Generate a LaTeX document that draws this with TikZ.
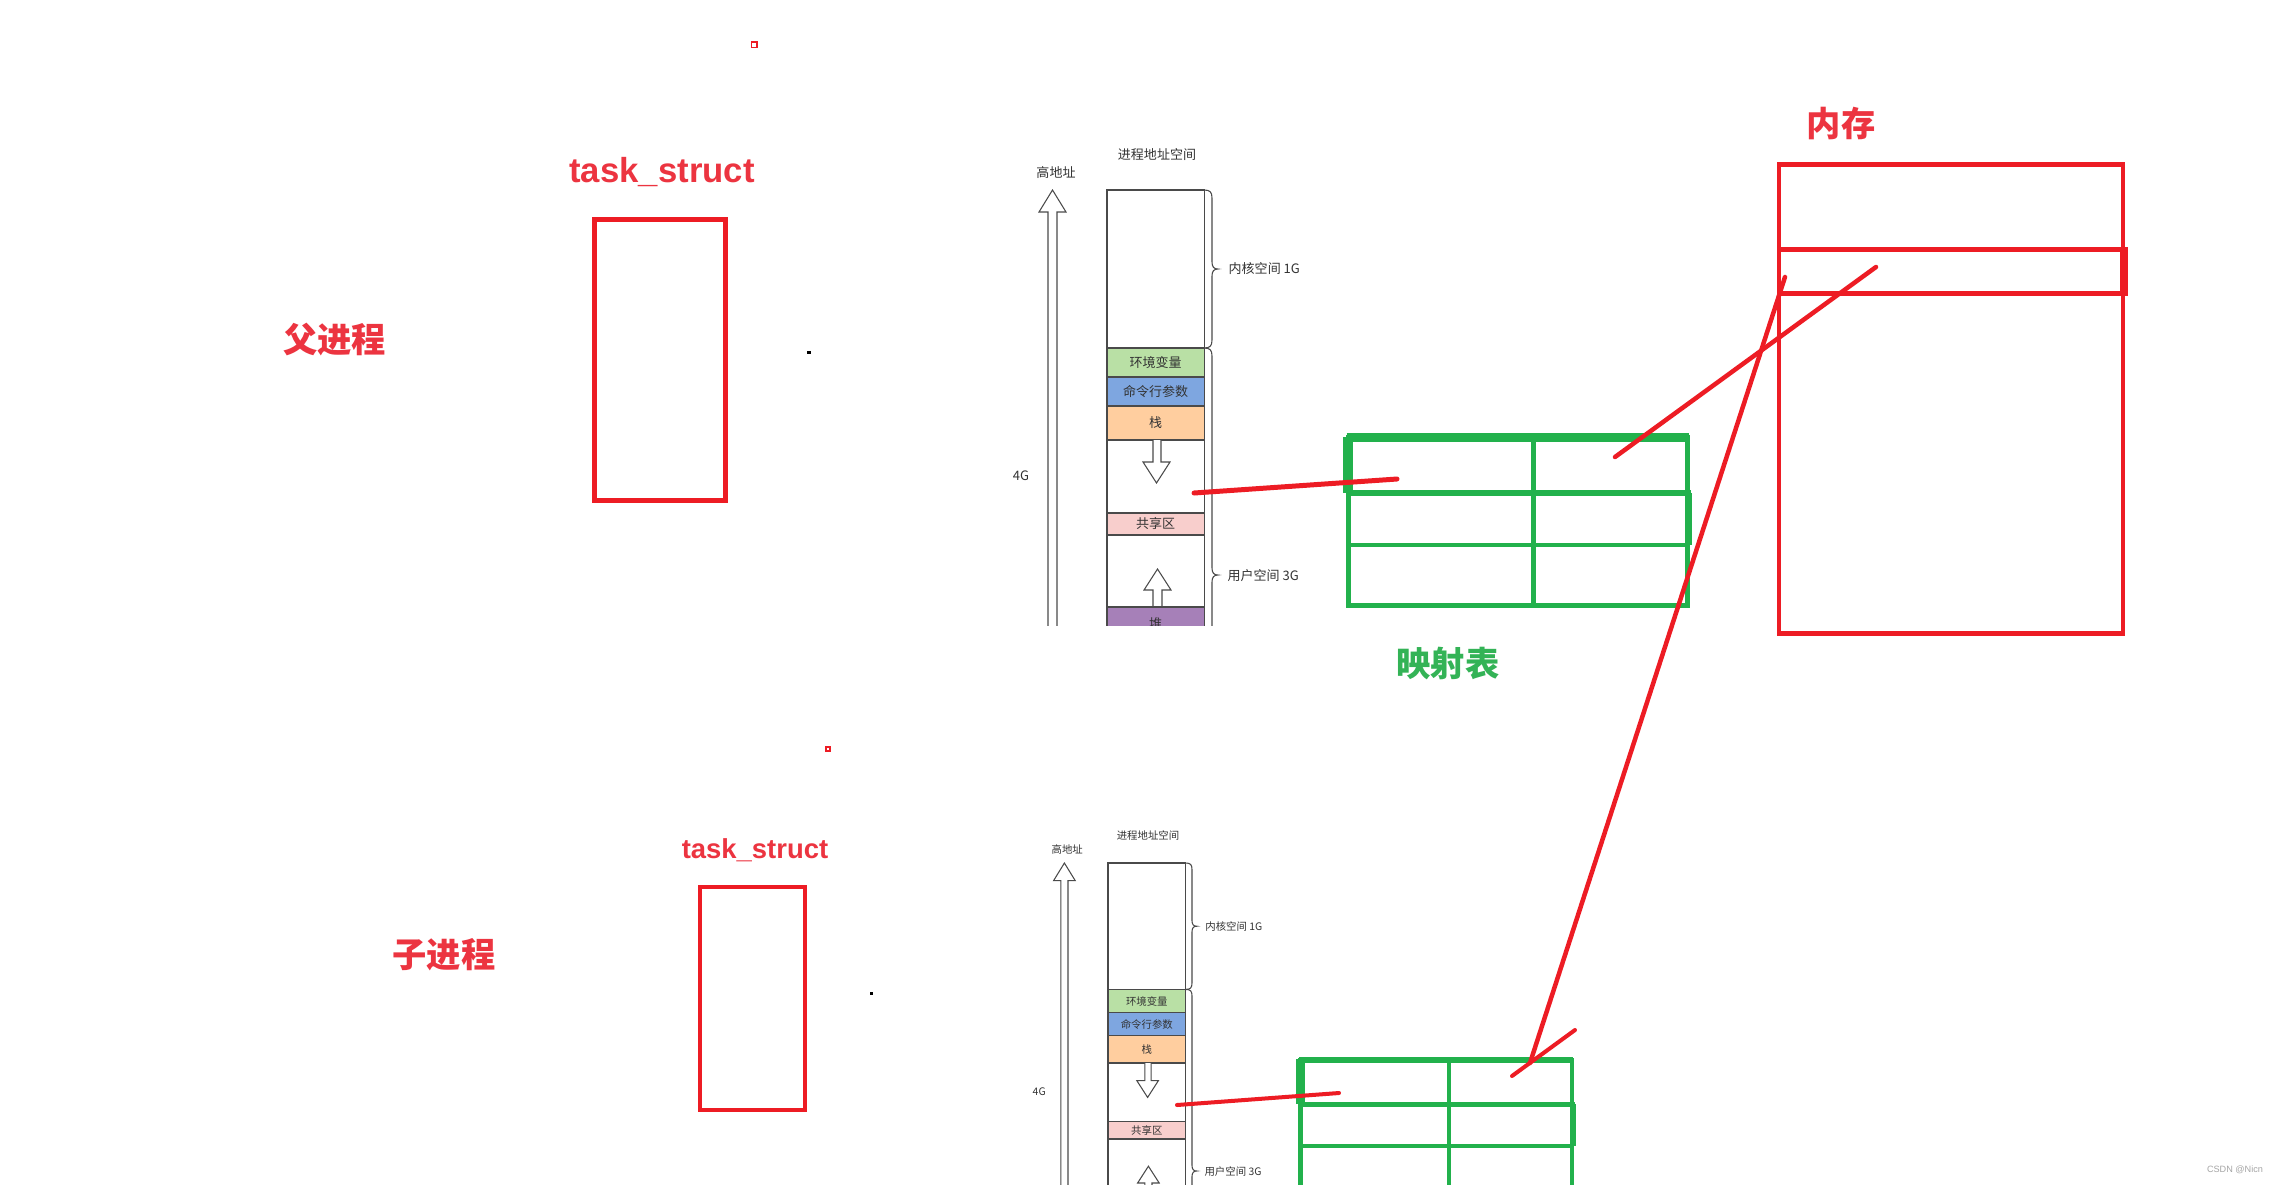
\documentclass[tikz,border=0pt]{standalone}
\usepackage{fontspec}
\newfontfamily\cjk{Noto Sans CJK SC}
\newfontfamily\lsans{Liberation Sans}
\definecolor{pred}{HTML}{ED1C24}
\definecolor{ptxtred}{HTML}{EC3440}
\definecolor{pgreen}{HTML}{22B14C}
\definecolor{gtxt}{HTML}{33B356}
\definecolor{cellgray}{HTML}{4A4A4A}
\definecolor{txtgray}{HTML}{333333}
\definecolor{envgreen}{HTML}{B9E0A5}
\definecolor{cmdblue}{HTML}{7EA6E0}
\definecolor{stkorange}{HTML}{FFCE9F}
\definecolor{shrpink}{HTML}{F8CECC}
\definecolor{heappurple}{HTML}{A680B8}
\tikzset{
  smalltxt/.style={font=\cjk\fontsize{3.7pt}{4.2pt}\selectfont, text=txtgray, inner sep=0pt},
  cellline/.style={draw=cellgray, line width=0.3pt},
  cell/.style={draw=cellgray, line width=0.3pt, fill=white, minimum width=0.97cm, inner sep=0pt, outer sep=0pt, anchor=north west, font=\cjk\fontsize{3.7pt}{4.2pt}\selectfont, text=txtgray},
  hollow/.style={draw=cellgray, fill=white, line width=0.3pt, line join=miter},
  bigtxt/.style={font=\cjk\bfseries\fontsize{9.75pt}{11pt}\selectfont, inner sep=0pt},
  redbox/.style={draw=pred, inner sep=0pt, outer sep=0pt},
  redline/.style={draw=pred, line cap=round},
  gline/.style={draw=pgreen}
}
\newcommand\addrspace[4]{%
\begin{scope}[shift={#2},scale=#3,transform shape]
\clip (-130,-60) rectangle (270,#4);
\draw[cellline, fill=white] (0,0) rectangle (97,700);
\node[smalltxt] (#1title) at (50,-35) {进程地址空间};
\node[smalltxt] (#1high) at (-51,-17) {高地址};
\draw[hollow] (-59,700) -- (-59,22) -- (-68,22) -- (-54.5,0) -- (-41,22) -- (-50,22) -- (-50,700);
\node[smalltxt] (#1fourg) at (-86,286) {4G};
\node[cell, minimum height=1.58cm] (#1kern) at (0,0) {};
\node[cell, fill=envgreen, minimum height=0.29cm] (#1env) at (0,158) {环境变量};
\node[cell, fill=cmdblue, minimum height=0.29cm] (#1cmd) at (0,187) {命令行参数};
\node[cell, fill=stkorange, minimum height=0.34cm] (#1stack) at (0,216) {栈};
\node[cell, minimum height=0.73cm] (#1gapa) at (0,250) {};
\node[cell, fill=shrpink, minimum height=0.22cm] (#1share) at (0,323) {共享区};
\node[cell, minimum height=0.72cm] (#1gapb) at (0,345) {};
\draw[hollow] (46,250) -- (46,272) -- (36,272) -- (49.5,293) -- (63,272) -- (54,272) -- (54,250);
\draw[hollow] (46,417) -- (46,400) -- (37,400) -- (50.5,379) -- (64,400) -- (55,400) -- (55,417);
\draw[cellline] (97,0) .. controls (103,0) and (105,2) .. (105,8) -- (105,72) .. controls (105,77) and (107,79) .. (111,79) .. controls (107,79) and (105,81) .. (105,86) -- (105,150) .. controls (105,156) and (103,158) .. (97,158);
\draw[cellline] (97,158) .. controls (103,158) and (105,160) .. (105,166) -- (105,378) .. controls (105,383) and (107,385) .. (111,385) .. controls (107,385) and (105,387) .. (105,392) -- (105,604) .. controls (105,610) and (103,612) .. (97,612);
\node[smalltxt, anchor=west] (#1kspace) at (121,79) {内核空间 1G};
\node[smalltxt, anchor=west] (#1uspace) at (120,386) {用户空间 3G};
\end{scope}}
\newcommand\gtable[4]{%
\begin{scope}[shift={#2},scale=#3]
\draw[gline, line width=#4*1.42pt] (0,0) rectangle (339.5,167.5);
\draw[gline, line width=#4*2.3pt] (-1.5,0) -- (341,0);
\draw[gline, line width=#4*2.8pt] (0,-1) -- (0,55.5);
\draw[gline, line width=#4*1.7pt] (0,55.5) -- (343,55.5);
\draw[gline, line width=#4*1.6pt] (341.5,55.5) -- (341.5,107.5);
\draw[gline, line width=#4*1.15pt] (0,107.5) -- (342,107.5);
\draw[gline, line width=#4*1.28pt] (185.5,0) -- (185.5,167.5);
\coordinate (#1corner) at (0,0);
\end{scope}}
\begin{document}
\begin{tikzpicture}[x=0.01cm,y=-0.01cm]
\useasboundingbox (0,0) rectangle (2278,1184);
\clip (0,0) rectangle (2278,1184);
\fill[white] (0,0) rectangle (2278,1184);

% parent process
\node[bigtxt, text=ptxtred] (fu) at (334.5,339) {父进程};
\node[font=\lsans\bfseries\fontsize{9.87pt}{11pt}\selectfont, text=ptxtred, inner sep=0pt] (tsa) at (662,172.5) {task\_struct};
\node[redbox, line width=1.42pt, minimum width=1.31cm, minimum height=2.81cm] (boxa) at (660,360) {};
\draw[pred, line width=0.45pt] (751.5,42) rectangle (757,47.5);
\fill[black] (807,351) rectangle (811,354);

% child process
\node[bigtxt, text=ptxtred] (zi) at (444,955) {子进程};
\node[font=\lsans\bfseries\fontsize{7.8pt}{9pt}\selectfont, text=ptxtred, inner sep=0pt] (tsb) at (755,850.5) {task\_struct};
\node[redbox, line width=1.14pt, minimum width=1.05cm, minimum height=2.23cm] (boxb) at (752.5,998.5) {};
\draw[pred, line width=0.35pt] (826,747) rectangle (830,751);
\fill[black] (869.5,992) rectangle (872.5,994.5);

% address spaces
\addrspace{ta}{(1107,190)}{1}{435}
\begin{scope}[shift={(1107,190)}]
\clip (-130,-60) rectangle (270,435);
\node[cell, fill=heappurple, minimum height=0.34cm] (taheap) at (0,417) {堆};
\end{scope}
\addrspace{tb}{(1108,863)}{0.8}{402}

% mapping tables
\gtable{ga}{(1348,437.5)}{1}{1}
\gtable{gb}{(1300.5,1060)}{0.8}{0.85}
\node[bigtxt, text=gtxt] (ysb) at (1448,664) {映射表};

% memory
\node[bigtxt, text=ptxtred] (nc) at (1841,123) {内存};
\node[redbox, line width=1.28pt, minimum width=3.44cm, minimum height=4.69cm] (mem) at (1951,399) {};
\node[redbox, line width=1.28pt, minimum width=3.46cm, minimum height=0.44cm] (memrow) at (1952,271.5) {};
\draw[pred, line width=2.3pt] (2124,247) -- (2124,296);

% red strokes
\coordinate (la) at (1194,493); \coordinate (lb) at (1397,479);
\coordinate (lc) at (1615,457); \coordinate (ld) at (1876,267);
\coordinate (le) at (1785,277); \coordinate (lf) at (1530,1063);
\coordinate (lg) at (1177,1105); \coordinate (lh) at (1339,1093);
\coordinate (li) at (1512,1076); \coordinate (lj) at (1575,1030);
\draw[redline, line width=1.42pt] (la) -- (lb);
\draw[redline, line width=1.28pt] (lc) -- (ld);
\draw[redline, line width=1.28pt] (le) -- (lf);
\draw[redline, line width=1.14pt] (lg) -- (lh);
\draw[redline, line width=1.14pt] (li) -- (lj);

% watermark
\node[font=\lsans\fontsize{2.6pt}{3pt}\selectfont, text=black!35, inner sep=0pt] (wm) at (2235,1170) {CSDN @Nicn};
\end{tikzpicture}
\end{document}
